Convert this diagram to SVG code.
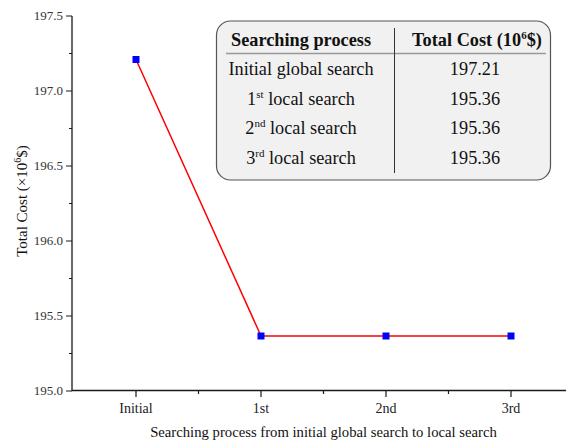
<svg xmlns="http://www.w3.org/2000/svg" width="566" height="444" viewBox="0 0 566 444">
<style>
.ax{stroke:#1a1a1a;stroke-width:1.3;fill:none}
.tk{stroke:#1a1a1a;stroke-width:1.2}
.ty{font-family:"Liberation Serif","Times New Roman",serif;font-size:13px;fill:#333;text-anchor:end}
.tx{font-family:"Liberation Serif","Times New Roman",serif;font-size:14px;fill:#222;text-anchor:middle}
.ti{font-family:"Liberation Serif","Times New Roman",serif;font-size:14.7px;fill:#111;text-anchor:middle}
.tb{font-family:"Liberation Serif","Times New Roman",serif;font-size:18.3px;fill:#111;text-anchor:middle}
.hd{font-weight:bold}
.mk{fill:#0000ff}
</style>
<rect width="566" height="444" fill="#ffffff"/>
<g id="axes">
<path class="ax" d="M72,16 V390.5 H566"/>
<path class="tk" d="M66,16H72M66,91H72M66,166H72M66,241H72M66,316H72M66,391H72"/>
<path class="tk" d="M69,53.5H72M69,128.5H72M69,203.5H72M69,278.5H72M69,353.5H72"/>
<path class="tk" d="M136,390V397M261,390V397M386,390V397M511,390V397"/>
<path class="tk" d="M198.5,390V394M323.5,390V394M448.5,390V394"/>
<text class="ty" x="63" y="20">197.5</text>
<text class="ty" x="63" y="95">197.0</text>
<text class="ty" x="63" y="170">196.5</text>
<text class="ty" x="63" y="245">196.0</text>
<text class="ty" x="63" y="320">195.5</text>
<text class="ty" x="63" y="395">195.0</text>
<text class="tx" x="136" y="413">Initial</text>
<text class="tx" x="261" y="413">1st</text>
<text class="tx" x="386" y="413">2nd</text>
<text class="tx" x="511" y="413">3rd</text>
<text class="ti" x="323.5" y="437">Searching process from initial global search to local search</text>
<text class="ti" transform="translate(26.5,201) rotate(-90)" style="font-size:15px">Total Cost (×10<tspan dy="-5.5" font-size="10">6</tspan><tspan dy="5.5">$)</tspan></text>
</g>
<g id="connectors">
<polyline points="136,59.5 261,336 386,336 511,336" fill="none" stroke="#ff0000" stroke-width="1.5"/>
</g>
<g id="points">
<rect class="mk" x="132.5" y="56" width="7" height="7"/>
<rect class="mk" x="257.5" y="332.5" width="7" height="7"/>
<rect class="mk" x="382.5" y="332.5" width="7" height="7"/>
<rect class="mk" x="507.5" y="332.5" width="7" height="7"/>
</g>
<g id="table">
<rect x="216.5" y="21" width="334" height="159" rx="14" fill="#f1f1f1" stroke="#555" stroke-width="1.2"/>
<line x1="226" y1="53.5" x2="546" y2="53.5" stroke="#999" stroke-width="1.5"/>
<line x1="394.5" y1="28" x2="394.5" y2="173" stroke="#333" stroke-width="1"/>
<text class="tb hd" x="301" y="46">Searching process</text>
<text class="tb hd" x="477" y="46">Total Cost (10<tspan dy="-7" font-size="11">6</tspan><tspan dy="7">$)</tspan></text>
<text class="tb" x="301" y="75">Initial global search</text>
<text class="tb" x="475" y="75">197.21</text>
<text class="tb" x="301" y="104.5">1<tspan dy="-7" font-size="11">st</tspan><tspan dy="7"> local search</tspan></text>
<text class="tb" x="475" y="104.5">195.36</text>
<text class="tb" x="301" y="134">2<tspan dy="-7" font-size="11">nd</tspan><tspan dy="7"> local search</tspan></text>
<text class="tb" x="475" y="134">195.36</text>
<text class="tb" x="301" y="163.5">3<tspan dy="-7" font-size="11">rd</tspan><tspan dy="7"> local search</tspan></text>
<text class="tb" x="475" y="163.5">195.36</text>
</g>
</svg>
